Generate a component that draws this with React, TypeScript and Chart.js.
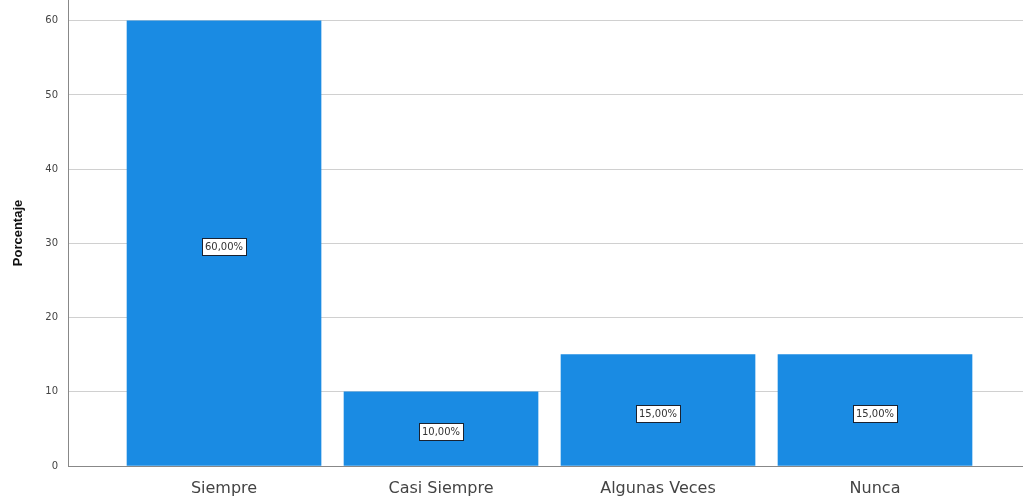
import React, { useEffect, useRef } from "react";
import { Chart, registerables } from "chart.js";

Chart.register(...registerables);

const categories = ["Siempre", "Casi Siempre", "Algunas Veces", "Nunca"];
const percentages = [60, 10, 15, 15];
const valueLabels = ["60,00%", "10,00%", "15,00%", "15,00%"];
const yTicks = [0, 10, 20, 30, 40, 50, 60];

const labelBoxPlugin = {
  id: "labelBoxes",
  afterDatasetsDraw(chart: any) {
    const ctx = chart.ctx;
    const meta = chart.getDatasetMeta(0);
    const yScale = chart.scales.y;
    ctx.save();
    ctx.font = "10px 'DejaVu Sans', sans-serif";
    ctx.textAlign = "center";
    ctx.textBaseline = "middle";
    meta.data.forEach((bar: any, i: number) => {
      const text = valueLabels[i];
      const x = bar.x;
      const y = yScale.getPixelForValue(percentages[i] / 2) + 3;
      const w = Math.round(ctx.measureText(text).width + 6);
      const h = 17;
      const bx = Math.round(x - w / 2);
      const by = Math.round(y - h / 2);
      ctx.fillStyle = "#ffffff";
      ctx.fillRect(bx, by, w, h);
      ctx.strokeStyle = "#1a2230";
      ctx.lineWidth = 1;
      ctx.strokeRect(bx + 0.5, by + 0.5, w, h);
      ctx.fillStyle = "#333";
      ctx.fillText(text, x, y + 1);
    });
    ctx.restore();
  },
};

export default function App() {
  const ref = useRef<HTMLCanvasElement>(null);
  useEffect(() => {
    document.body.style.margin = "0";
    const chart = new Chart(ref.current!, {
      type: "bar",
      data: {
        datasets: [
          {
            data: percentages.map((v, i) => ({ x: i, y: v })),
            backgroundColor: "#1a8be3",
            borderWidth: 0,
            barThickness: 194,
          },
        ],
      },
      options: {
        animation: false,
        responsive: false,
        maintainAspectRatio: false,
        layout: { padding: 0 },
        plugins: { legend: { display: false }, tooltip: { enabled: false } },
        scales: {
          x: {
            type: "linear",
            min: -0.719,
            max: 3.682,
            offset: false,
            afterBuildTicks: (s: any) => {
              s.ticks = categories.map((_, i) => ({ value: i }));
            },
            afterFit: (s: any) => {
              s.height = 31;
              s.paddingLeft = 0;
              s.paddingRight = 0;
            },
            ticks: {
              callback: (v: any) => categories[v] ?? "",
              font: { size: 16, family: "'DejaVu Sans', sans-serif" },
              color: "#444",
              padding: 13,
              maxRotation: 0,
              autoSkip: false,
            },
            grid: { display: false, drawTicks: false },
            border: { display: true, color: "#888", width: 1 },
          },
          y: {
            min: 0,
            max: 62.8,
            afterBuildTicks: (s: any) => {
              s.ticks = yTicks.map((v) => ({ value: v }));
            },
            afterFit: (s: any) => {
              s.width = 68;
              s.paddingTop = 0;
              s.paddingBottom = 0;
            },
            ticks: {
              font: { size: 10, family: "'DejaVu Sans', sans-serif" },
              color: "#444",
              padding: 10,
            },
            grid: { color: "#d0d0d0", drawTicks: false },
            border: { display: true, color: "#888", width: 1 },
            title: {
              display: true,
              text: "Porcentaje",
              font: { size: 13, weight: "bold", family: "'Liberation Sans', Arial, sans-serif" },
              color: "#111",
              padding: { top: 11, bottom: 0 },
            },
          },
        },
      },
      plugins: [labelBoxPlugin],
    } as any);
    return () => chart.destroy();
  }, []);
  return <canvas ref={ref} width={1023} height={497} style={{ display: "block" }} />;
}
